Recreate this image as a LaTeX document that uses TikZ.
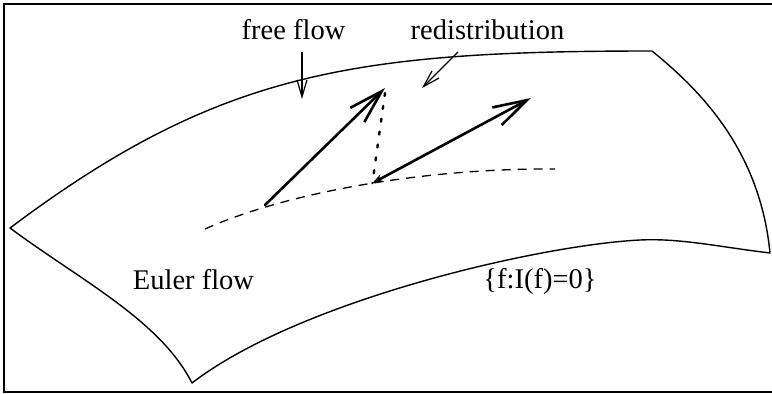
\documentclass[tikz,border=0pt]{standalone}
\usepackage{fontspec}
\setmainfont{Liberation Serif}
\usetikzlibrary{arrows.meta}
\begin{document}
\begin{tikzpicture}[x=1pt,y=-1pt,
  lbl/.style={font=\fontsize{28.5}{32}\selectfont, inner sep=0pt, anchor=base},
  surf/.style={line width=1.4pt, line join=round},
  thickarrow/.style={line width=2.6pt, line cap=round,
     -{Straight Barb[length=34pt,width=20pt,line width=2.6pt]}},
  thinarrow/.style={line width=1.2pt,
     -{Straight Barb[length=17pt,width=10pt,line width=1.2pt]}},
  dashcurve/.style={line width=1.3pt, dash pattern=on 9pt off 7pt},
  dotline/.style={line width=2.4pt, line cap=round, dash pattern=on 3pt off 10pt},
  frameline/.style={line width=2.2pt}]
\useasboundingbox (0,0) rectangle (772,394);
% frame (open on the right)
\draw[frameline] (772,4) -- (4,4) -- (4,392) -- (772,392);
% surface
\draw[surf] (10,228) .. controls (218,72) and (352,51) .. (652,51)
  .. controls (700,90) and (760,150) .. (770,253)
  .. controls (720,247) and (680,238) .. (640,240)
  .. controls (540,245) and (300,300) .. (192,383)
  .. controls (160,320) and (80,280) .. (10,228) -- cycle;
% dashed curve
\draw[dashcurve] (205,229) .. controls (290,191) and (430,168) .. (555,169)
  coordinate[pos=0.52] (base2);
% points
\coordinate (base1) at (265,205);
\coordinate (tip1) at (385,88);
\coordinate (tip2) at (531,98);
% labels
\node[lbl] (free) at (293.5,39) {free flow};
\node[lbl] (redis) at (487.5,39) {redistribution};
\node[lbl] (euler) at (193.5,289) {Euler flow};
\node[lbl] (set) at (540,288) {\{f:I(f)=0\}};
\coordinate (freeS) at (302,52);
\coordinate (freeT) at (302,99);
\coordinate (redS) at (458,52);
\coordinate (redT) at (422,88);
% thin arrows
\draw[thinarrow] (freeS) -- (freeT);
\draw[thinarrow] (redS) -- (redT);
% dotted
\draw[dotline] (tip1) ++(0,5) -- (base2);
% thick arrows
\draw[thickarrow] (base1) -- (tip1);
\draw[line width=2.6pt,
  {Stealth[length=11pt,width=8pt]}-{Straight Barb[length=34pt,width=20pt,line width=2.6pt]}]
  (base2) -- (tip2);
\end{tikzpicture}
\end{document}
